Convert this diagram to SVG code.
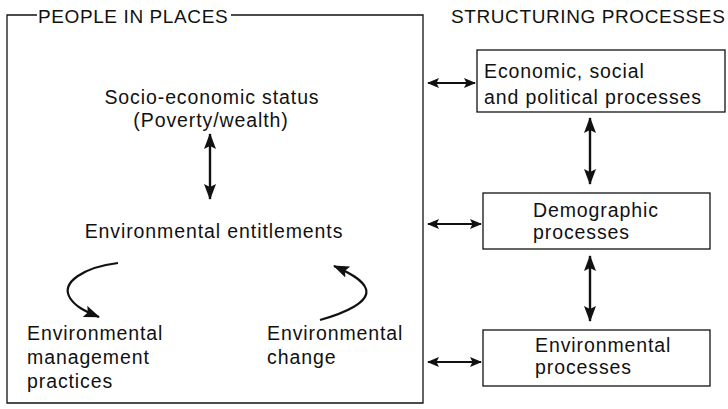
<svg xmlns="http://www.w3.org/2000/svg" width="728" height="409" viewBox="0 0 728 409">
<style>
text{font-family:"Liberation Sans",Arial,sans-serif;font-size:19.5px;fill:#111;letter-spacing:0.9px}
.h{font-size:19px;letter-spacing:0.6px}
.c{text-anchor:middle}
.frame{fill:none;stroke:#111;stroke-width:1.3}
.box{fill:#fff;stroke:#111;stroke-width:1.3}
.arr{fill:none;stroke:#111;stroke-width:2.2;marker-start:url(#ah);marker-end:url(#ah)}
.varr{fill:none;stroke:#111;stroke-width:2.4;marker-start:url(#av);marker-end:url(#av)}
.one{fill:none;stroke:#111;stroke-width:2.2;marker-end:url(#av)}
</style>
<defs>
<marker id="ah" viewBox="0 0 12 10" refX="11" refY="5" markerWidth="12" markerHeight="10" orient="auto-start-reverse" markerUnits="userSpaceOnUse">
<path d="M0,0 L12,5 L0,10 L2.5,5 Z" fill="#111"/>
</marker>
<marker id="av" viewBox="0 0 16 12" refX="15" refY="6" markerWidth="16" markerHeight="12" orient="auto-start-reverse" markerUnits="userSpaceOnUse">
<path d="M0,0 L16,6 L0,12 L3,6 Z" fill="#111"/>
</marker>
</defs>
<rect width="728" height="409" fill="#fff"/>
<g id="people-in-places">
<path class="frame" d="M37,15 H7 V403 H423 V15 H231"/>
<text class="h" x="38" y="23">PEOPLE IN PLACES</text>
</g>
<text class="h" x="451" y="23" id="structuring-title">STRUCTURING PROCESSES</text>
<g id="socio">
<text class="c" x="212" y="104">Socio-economic status</text>
<text class="c" x="211" y="127">(Poverty/wealth)</text>
</g>
<g id="entitlements">
<text class="c" x="214" y="238">Environmental entitlements</text>
</g>
<g id="management">
<text x="27" y="340">Environmental</text>
<text x="27" y="364">management</text>
<text x="27" y="388">practices</text>
</g>
<g id="change">
<text x="267" y="340">Environmental</text>
<text x="267" y="364">change</text>
</g>
<g id="economic">
<rect class="box" x="477" y="50" width="248" height="62"/>
<text x="484" y="78">Economic, social</text>
<text x="484" y="104" letter-spacing="1.4">and political processes</text>
</g>
<g id="demographic">
<rect class="box" x="483" y="193" width="227" height="56"/>
<text x="533" y="217">Demographic</text>
<text x="533" y="239">processes</text>
</g>
<g id="environmental">
<rect class="box" x="483" y="330" width="227" height="56"/>
<text x="535" y="352">Environmental</text>
<text x="535" y="374">processes</text>
</g>
<g id="connectors">
<line class="arr" x1="428" y1="83" x2="475" y2="83"/>
<line class="arr" x1="428" y1="224" x2="481" y2="224"/>
<line class="arr" x1="428" y1="362" x2="481" y2="362"/>
<line class="varr" x1="590" y1="118" x2="590" y2="184"/>
<line class="varr" x1="590" y1="256" x2="590" y2="321"/>
<line class="varr" x1="210" y1="134" x2="210" y2="199"/>
<path class="one" d="M118,263 C85,267 60,282 70,298 C75,306 84,311 99,317"/>
<path class="one" d="M320,320 C345,313 370,302 366,289 C363,280 350,273 334,266"/>
</g>
</svg>
